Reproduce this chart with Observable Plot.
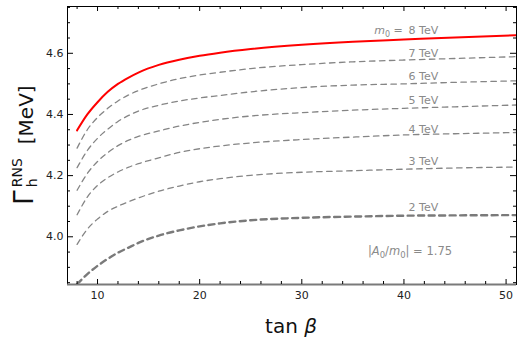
<!DOCTYPE html>
<html><head><meta charset="utf-8">
<script src="https://cdn.jsdelivr.net/npm/d3@7"></script>
<script src="https://cdn.jsdelivr.net/npm/@observablehq/plot@0.6"></script>
<style>body{margin:0;background:#fff;}</style>
</head><body><div id="chart"></div>
<script>
// tan(beta) sample points
const tanBeta = [8, 9, 10, 11, 12, 13, 14, 16, 18, 20, 22, 25, 30, 35, 40, 45, 51];
// Gamma_h^RNS [MeV] for each m0
const gamma8 = [4.348, 4.400, 4.440, 4.474, 4.500, 4.520, 4.537, 4.562, 4.579, 4.592, 4.602, 4.614, 4.628, 4.638, 4.645, 4.652, 4.659];
const gamma7 = [4.290, 4.350, 4.390, 4.420, 4.444, 4.463, 4.478, 4.500, 4.517, 4.529, 4.538, 4.550, 4.563, 4.572, 4.578, 4.583, 4.589];
const gamma6 = [4.226, 4.282, 4.322, 4.352, 4.377, 4.396, 4.411, 4.430, 4.444, 4.454, 4.462, 4.474, 4.488, 4.496, 4.500, 4.505, 4.510];
const gamma5 = [4.152, 4.207, 4.246, 4.275, 4.298, 4.315, 4.328, 4.346, 4.362, 4.374, 4.384, 4.395, 4.406, 4.414, 4.420, 4.425, 4.431];
const gamma4 = [4.072, 4.130, 4.168, 4.193, 4.212, 4.227, 4.239, 4.258, 4.276, 4.288, 4.297, 4.307, 4.318, 4.326, 4.333, 4.337, 4.341];
const gamma3 = [3.975, 4.025, 4.058, 4.083, 4.100, 4.114, 4.127, 4.149, 4.166, 4.180, 4.190, 4.201, 4.211, 4.216, 4.221, 4.225, 4.228];
const gamma2 = [3.845, 3.878, 3.905, 3.928, 3.948, 3.964, 3.980, 4.004, 4.021, 4.034, 4.044, 4.054, 4.062, 4.066, 4.069, 4.070, 4.071];

// curve labels
const seriesLabels = ["8 TeV", "7 TeV", "6 TeV", "5 TeV", "4 TeV", "3 TeV", "2 TeV"];
const labelX = [41.9, 41.9, 41.9, 41.9, 41.9, 41.9, 41.9];
const labelY = [4.674, 4.601, 4.524, 4.445, 4.352, 4.245, 4.097];

// ticks
const xMajorTicks = [10, 20, 30, 40, 50];
const xMinorTicks = [8, 12, 14, 16, 18, 22, 24, 26, 28, 32, 34, 36, 38, 42, 44, 46, 48];
const yMajorTicks = [4.0, 4.2, 4.4, 4.6];
const yMinorTicks = [3.85, 3.9, 3.95, 4.05, 4.1, 4.15, 4.25, 4.3, 4.35, 4.45, 4.5, 4.55, 4.65, 4.7, 4.75];

const toRows = (arr, name) => tanBeta.map((t, i) => ({tanBeta: t, gamma: arr[i], series: name}));
const dashedRows = [
  ...toRows(gamma7, "7 TeV"), ...toRows(gamma6, "6 TeV"), ...toRows(gamma5, "5 TeV"),
  ...toRows(gamma4, "4 TeV"), ...toRows(gamma3, "3 TeV")
];
const rows2 = toRows(gamma2, "2 TeV");
const rows8 = toRows(gamma8, "8 TeV");
const labelRows = seriesLabels.map((s, i) => ({text: s, x: labelX[i], y: labelY[i]}));

const yMin = 3.844, yMax = 4.753;
const grayText = "#8a8a8a";
const W = 523, H = 343, mL = 67, mR = 7, mT = 6, mB = 59;
const plotW = W - mL - mR, plotH = H - mT - mB;

const plot = Plot.plot({
  width: W, height: H,
  marginLeft: mL, marginRight: mR, marginTop: mT, marginBottom: mB,
  style: {fontFamily: "DejaVu Sans", fontSize: "11px", color: "#222", background: "#fff"},
  x: {domain: [7.06, 51.02]},
  y: {domain: [yMin, yMax]},
  marks: [
    Plot.line(dashedRows, {x: "tanBeta", y: "gamma", z: "series", stroke: "#858585", strokeWidth: 1.3, strokeDasharray: "5.5,4.5", curve: "monotone-x", clip: true}),
    Plot.line(rows2, {x: "tanBeta", y: "gamma", stroke: "#7a7a7a", strokeWidth: 2.4, strokeDasharray: "6,4.5", curve: "monotone-x", clip: true}),
    Plot.line(rows8, {x: "tanBeta", y: "gamma", stroke: "#ff0000", strokeWidth: 2, curve: "monotone-x", clip: true}),
    Plot.text(labelRows, {x: "x", y: "y", text: "text", fill: grayText, fontSize: 11, textAnchor: "middle"}),
    Plot.frame({stroke: "#000", strokeWidth: 1}),
    Plot.ruleY([yMin], {stroke: "#7a7a7a", strokeWidth: 2}),
    // inward ticks (bottom / top)
    Plot.tickX(xMajorTicks, {x: d => d, stroke: "#000", insetTop: plotH - 5}),
    Plot.tickX(xMinorTicks, {x: d => d, stroke: "#000", insetTop: plotH - 3}),
    Plot.tickX(xMajorTicks, {x: d => d, stroke: "#000", insetBottom: plotH - 5}),
    Plot.tickX(xMinorTicks, {x: d => d, stroke: "#000", insetBottom: plotH - 3}),
    // inward ticks (left / right)
    Plot.tickY(yMajorTicks, {y: d => d, stroke: "#000", insetRight: plotW - 6}),
    Plot.tickY(yMinorTicks, {y: d => d, stroke: "#000", insetRight: plotW - 3}),
    Plot.tickY(yMajorTicks, {y: d => d, stroke: "#000", insetLeft: plotW - 6}),
    Plot.tickY(yMinorTicks, {y: d => d, stroke: "#000", insetLeft: plotW - 3}),
    // tick labels
    Plot.axisX({anchor: "bottom", ticks: xMajorTicks, tickSize: 0, tickPadding: 7, tickFormat: d3.format("d"), label: null}),
    Plot.axisY({anchor: "left", ticks: yMajorTicks, tickSize: 0, tickPadding: 4, tickFormat: d3.format(".1f"), label: null})
  ]
});

document.getElementById("chart").appendChild(plot);

const sx = plot.scale("x"), sy = plot.scale("y");
const svg = d3.select(plot);

// "m0 = " prefix before 8 TeV label
const m0Label = svg.append("text")
  .attr("x", sx.apply(labelX[0]) - 20)
  .attr("y", sy.apply(labelY[0]))
  .attr("dy", "0.32em")
  .attr("text-anchor", "end")
  .attr("fill", grayText)
  .attr("font-family", "DejaVu Sans")
  .attr("font-size", 11);
m0Label.append("tspan").attr("font-style", "italic").text("m");
m0Label.append("tspan").attr("font-size", 8).attr("dy", 3).text("0");
m0Label.append("tspan").attr("dy", -3).text(" =");

// |A0/m0| = 1.75
const aLabel = svg.append("text")
  .attr("x", sx.apply(40.64))
  .attr("y", sy.apply(3.950))
  .attr("dy", "0.32em")
  .attr("text-anchor", "middle")
  .attr("fill", grayText)
  .attr("font-family", "DejaVu Sans")
  .attr("font-size", 11.5);
aLabel.append("tspan").text("|");
aLabel.append("tspan").attr("font-style", "italic").text("A");
aLabel.append("tspan").attr("font-size", 8.5).attr("dy", 3).text("0");
aLabel.append("tspan").attr("dy", -3).text("/");
aLabel.append("tspan").attr("font-style", "italic").text("m");
aLabel.append("tspan").attr("font-size", 8.5).attr("dy", 3).text("0");
aLabel.append("tspan").attr("dy", -3).text("| = 1.75");

// x axis title
const xt = svg.append("text")
  .attr("x", 291).attr("y", 333)
  .attr("text-anchor", "middle")
  .attr("fill", "#111")
  .attr("font-family", "DejaVu Sans")
  .attr("font-size", 20);
xt.append("tspan").text("tan ");
xt.append("tspan").attr("font-style", "italic").text("β");

// y axis title
const yt = svg.append("text")
  .attr("transform", "translate(33,145) rotate(-90)")
  .attr("text-anchor", "middle")
  .attr("fill", "#111")
  .attr("font-family", "DejaVu Sans")
  .attr("font-size", 20);
yt.append("tspan").attr("font-size", 26).text("Γ");
yt.append("tspan").attr("font-size", 14).attr("dx", 3).attr("dy", 4).text("h");
yt.append("tspan").attr("font-size", 14).attr("dx", -9).attr("dy", -15).text("RNS");
yt.append("tspan").attr("dy", 11).attr("dx", 14).text("[MeV]");
</script>
</body></html>
